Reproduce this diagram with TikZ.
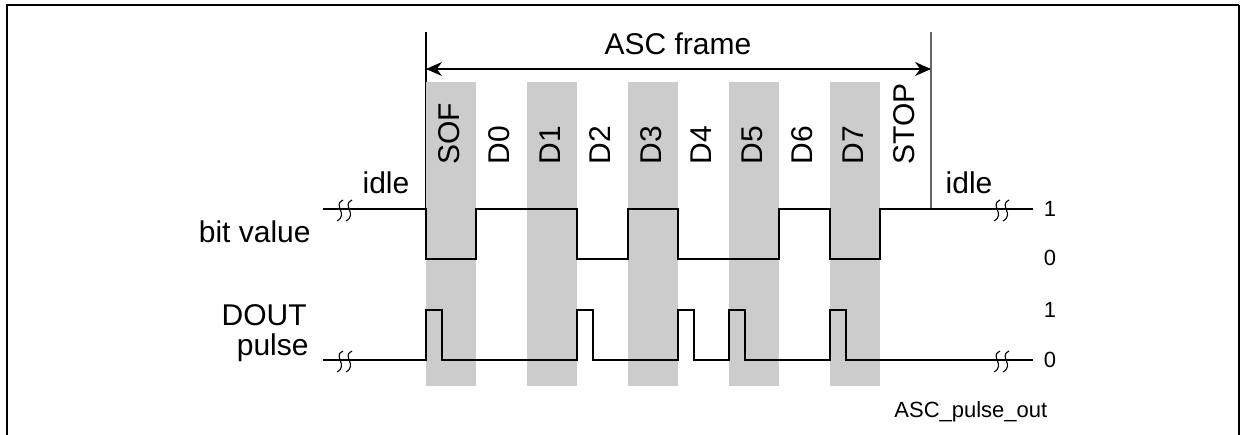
\documentclass[tikz,border=0pt]{standalone}
\usepackage{fontspec}
\setmainfont{Liberation Sans}
\usepackage{tikz}
\usetikzlibrary{arrows.meta}

\tikzset{
  wave/.style={line width=1.25pt, line join=miter},
  bitcol/.style={fill=black!20, draw=none},
  bitname/.style={rotate=90, anchor=base west, inner sep=0pt, font=\fontsize{15}{17}\selectfont},
  biglabel/.style={inner sep=0pt, font=\fontsize{15}{17}\selectfont},
  level/.style={inner sep=0pt, font=\fontsize{11}{13}\selectfont},
}
% break mark on a signal line
\newcommand{\brkmark}[2]{%
  \draw[line width=0.55pt] (#1,#2-9) .. controls (#1-11,#2-4) and (#1+6,#2+5) .. (#1-6,#2+12);
  \draw[line width=0.55pt] (#1+9,#2-9) .. controls (#1-2,#2-4) and (#1+15,#2+5) .. (#1+3,#2+12);
}

\begin{document}
\begin{tikzpicture}[x=0.5pt, y=-0.5pt]
\useasboundingbox (0,0) rectangle (1241,434);
\clip (0,0) rectangle (1241,434);
% outer frame
\draw[line width=1pt] (7,450) -- (7,5) -- (1239,5);
\draw[line width=0.7pt] (1239,5) -- (1239,450);

% frame limits
\draw[line width=0.6pt] (426,32) -- (426,209);
\draw[line width=0.6pt, black!60] (931,32) -- (931,209);

% shaded bits
\fill[bitcol] (426,82) rectangle (476,386);
\fill[bitcol] (527,82) rectangle (577,386);
\fill[bitcol] (628,82) rectangle (678,386);
\fill[bitcol] (729,82) rectangle (779,386);
\fill[bitcol] (830,82) rectangle (880,386);

% ASC frame arrow
\coordinate (fstart) at (426,69);
\coordinate (fend) at (931,69);
\draw[line width=0.6pt, {Stealth[length=8pt,width=7pt]}-{Stealth[length=8pt,width=7pt]}] (fstart) -- (fend);
\node[biglabel, anchor=base] (frame) at (678,54) {ASC frame};

% bit names
\node[bitname] (sof) at (459,165) {SOF};
\node[bitname] (d0) at (509,165) {D0};
\node[bitname] (d1) at (560,165) {D1};
\node[bitname] (d2) at (610,165) {D2};
\node[bitname] (d3) at (661,165) {D3};
\node[bitname] (d4) at (711,165) {D4};
\node[bitname] (d5) at (762,165) {D5};
\node[bitname] (d6) at (812,165) {D6};
\node[bitname] (d7) at (863,165) {D7};
\node[bitname] (stop) at (914,165) {STOP};

% bit value
\draw[wave] (323,209) -- (426,209) -- (426,259) -- (476,259) -- (476,209)
  -- (577,209) -- (577,259) -- (628,259) -- (628,209) -- (678,209)
  -- (678,259) -- (779,259) -- (779,209) -- (830,209) -- (830,259)
  -- (880,259) -- (880,209) -- (1033,209);
\brkmark{343}{209}
\brkmark{1000}{209}

% DOUT pulse
\draw[wave] (323,360) -- (426,360) -- (426,310) -- (442,310) -- (442,360)
  -- (577,360) -- (577,310) -- (593,310) -- (593,360)
  -- (678,360) -- (678,310) -- (694,310) -- (694,360)
  -- (729,360) -- (729,310) -- (745,310) -- (745,360)
  -- (830,360) -- (830,310) -- (846,310) -- (846,360) -- (1033,360);
\brkmark{343}{360}
\brkmark{1000}{360}

% labels
\node[biglabel, anchor=base] (idlel) at (386,193) {idle};
\node[biglabel, anchor=base] (idler) at (969,193) {idle};
\node[biglabel, anchor=base east] (bitval) at (311,242) {bit value};
\node[biglabel, anchor=base east] (dout) at (307,325) {DOUT};
\node[biglabel, anchor=base east] (pulse) at (309,355) {pulse};
\node[level] (b1) at (1050,209) {1};
\node[level] (b0) at (1050,258) {0};
\node[level] (p1) at (1050,310) {1};
\node[level] (p0) at (1050,360) {0};
\node[level, anchor=base west] (figname) at (894,417) {ASC\_pulse\_out};
\end{tikzpicture}
\end{document}
